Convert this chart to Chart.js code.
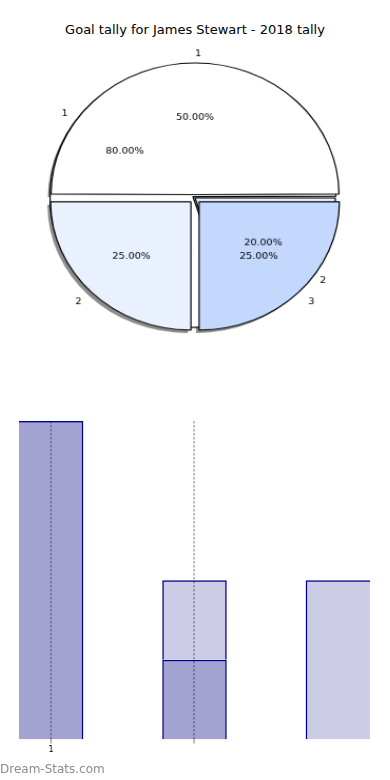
<!DOCTYPE html>
<html>
<head>
<meta charset="utf-8">
<script src="https://cdn.jsdelivr.net/npm/chart.js@4"></script>
<style>
	body { margin: 0; background: #fff; width: 390px; height: 780px; position: relative; overflow: hidden; font-family: "DejaVu Sans", sans-serif; }
	#title { position: absolute; top: 22px; left: 0; width: 390px; text-align: center; font-size: 13px; color: #000; }
	/* matplotlib drew the pies on a non-square axes, so they come out as ellipses */
	.pie { position: absolute; left: 0; top: 0; transform-origin: 195px 198px; transform: scale(1.055, 0.965); }
	#barWrap { position: absolute; left: 0; top: 400px; width: 390px; height: 360px; }
	#mark { position: absolute; left: 0; top: 762px; font-size: 12px; color: #8c8c8c; }
</style>
</head>
<body>
<div id="title">Goal tally for James Stewart - 2018 tally</div>
<canvas id="pieBack" class="pie" width="390" height="396"></canvas>
<canvas id="pieFront" class="pie" width="390" height="396"></canvas>
<div id="barWrap"><canvas id="goalBars"></canvas></div>
<div id="mark">Dream-Stats.com</div>
<script>
// pie behind: 80 / 20
const backLabels = ['1', '2'];
const backGoals = [4, 1];
// pie in front: 50 / 25 / 25
const frontLabels = ['1', '2', '3'];
const frontGoals = [2, 1, 1];

// bar chart below
const barCategories = [1, 2, 3];
const darkGoals = [4, 1, null];
const lightGoals = [null, 1, 2];
const xTickValues = [1, 2];
const xTickLabels = ['1', ''];

const backColors = ['#ffffff', '#eaf1fe'];
const frontColors = ['#ffffff', '#eaf1fe', '#c4d8fe'];

// every pie; shadows go under all wedges, labels over all wedges
const allPies = [];

// drop shadows of all pies, drawn on the back canvas before its wedges
const pieShadow = {
	id: 'pieShadow',
	beforeDatasetsDraw(chart) {
		const ctx = chart.ctx;
		ctx.save();
		ctx.shadowColor = 'rgba(0, 0, 0, 0.45)';
		ctx.shadowOffsetX = -3;
		ctx.shadowOffsetY = 3;
		ctx.shadowBlur = 0;
		allPies.forEach(pie => {
			pie.getDatasetMeta(0).data.forEach(arc => {
				const ghost = Object.create(arc);
				ghost.options = Object.assign({}, arc.options, { borderWidth: 0 });
				ghost.draw(ctx);
			});
		});
		ctx.restore();
	}
};

// slice name outside, percentage inside, drawn on the front canvas
const sliceLabels = {
	id: 'sliceLabels',
	afterDatasetsDraw(chart) {
		const ctx = chart.ctx;
		ctx.save();
		ctx.font = '9.5px "DejaVu Sans"';
		ctx.fillStyle = '#000';
		ctx.textBaseline = 'middle';
		allPies.forEach(pie => {
			const ds = pie.data.datasets[0];
			const total = ds.data.reduce((a, b) => a + b, 0);
			pie.getDatasetMeta(0).data.forEach((arc, i) => {
				const p = arc.getProps(['x', 'y', 'startAngle', 'endAngle', 'outerRadius'], true);
				const mid = (p.startAngle + p.endAngle) / 2;
				const shift = (arc.options.offset || 0) / 4;
				const cx = p.x + Math.cos(mid) * shift;
				const cy = p.y + Math.sin(mid) * shift;
				const r = p.outerRadius;
				ctx.textAlign = 'center';
				ctx.fillText((ds.data[i] / total * 100).toFixed(2) + '%', cx + Math.cos(mid) * r * 0.6, cy + Math.sin(mid) * r * 0.6);
				ctx.textAlign = Math.cos(mid) >= -1e-9 ? 'left' : 'right';
				ctx.fillText(pie.data.labels[i], cx + Math.cos(mid) * r * 1.1, cy + Math.sin(mid) * r * 1.1);
			});
		});
		ctx.restore();
	}
};

function pieConfig(labels, values, colors, offsets, plugins) {
	// chart.js goes clockwise, matplotlib counter-clockwise: reverse and start at 3 o'clock
	return {
		type: 'pie',
		data: {
			labels: labels.slice().reverse(),
			datasets: [{
				data: values.slice().reverse(),
				backgroundColor: colors.slice().reverse(),
				borderColor: '#000',
				borderWidth: 1.2,
				offset: offsets.slice().reverse()
			}]
		},
		options: {
			responsive: false,
			animation: false,
			rotation: 90,
			radius: 133,
			layout: { padding: 0 },
			plugins: {
				legend: { display: false },
				tooltip: { enabled: false }
			}
		},
		plugins: plugins
	};
}

const frontPie = new Chart(document.getElementById('pieFront'), pieConfig(frontLabels, frontGoals, frontColors, [14, 22, 22], [sliceLabels]));
allPies.push(frontPie);
const backPie = new Chart(document.getElementById('pieBack'), pieConfig(backLabels, backGoals, backColors, [10, 0], [pieShadow]));
allPies.unshift(backPie);
frontPie.draw();

// outer bars run into the plot edge, so no border on that side
const barBorder = (c) => ({
	top: 1.5,
	bottom: 0,
	left: c.dataIndex === 0 ? 0 : 1.5,
	right: c.dataIndex === barCategories.length - 1 ? 0 : 1.5
});

new Chart(document.getElementById('goalBars'), {
	type: 'bar',
	data: {
		datasets: [
			{
				data: barCategories.map((c, i) => ({ x: c, y: darkGoals[i] })),
				backgroundColor: 'rgba(0, 0, 128, 0.36)',
				borderColor: '#000090',
				borderWidth: barBorder,
				categoryPercentage: 0.5,
				barPercentage: 0.9,
				clip: 0
			},
			{
				data: barCategories.map((c, i) => ({ x: c, y: lightGoals[i] })),
				backgroundColor: 'rgba(0, 0, 128, 0.2)',
				borderColor: '#000090',
				borderWidth: barBorder,
				categoryPercentage: 0.5,
				barPercentage: 0.9,
				clip: 0
			}
		]
	},
	options: {
		responsive: true,
		maintainAspectRatio: false,
		animation: false,
		layout: { padding: { left: 19, right: 20, top: 21, bottom: 3 } },
		plugins: {
			legend: { display: false },
			tooltip: { enabled: false }
		},
		scales: {
			x: {
				type: 'linear',
				min: 0.776,
				max: 3.224,
				offset: false,
				stacked: true,
				z: 1,
				afterBuildTicks: (scale) => {
					scale.ticks = xTickValues.map(v => ({ value: v }));
				},
				ticks: {
					callback: (v, i) => xTickLabels[i],
					font: { size: 8, family: 'DejaVu Sans' },
					color: '#000',
					padding: 2,
					maxRotation: 0
				},
				grid: {
					offset: false,
					color: 'rgba(110, 110, 110, 0.45)',
					lineWidth: 2,
					tickLength: 4
				},
				border: { display: false, dash: [2.5, 1.5] }
			},
			y: {
				display: false,
				min: 0,
				max: 4,
				stacked: true
			}
		}
	}
});
</script>
</body>
</html>
